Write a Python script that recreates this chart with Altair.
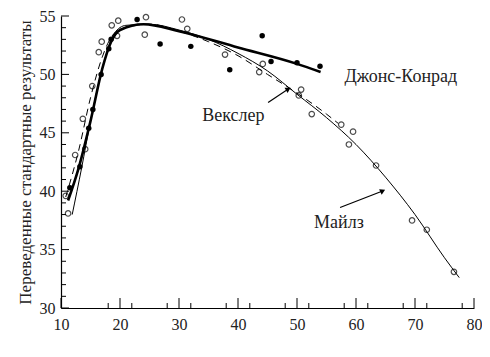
import altair as alt
import pandas as pd

# Filled points (Джонс-Конрад)
filled_x = [11.5, 13.2, 14.7, 15.4, 16.8, 18.1, 18.5, 22.9, 26.8, 32.0, 38.6, 44.1, 45.6, 50.0, 53.9]
filled_y = [40.3, 42.1, 45.4, 47.0, 50.0, 52.2, 53.0, 54.7, 52.6, 52.4, 50.4, 53.3, 51.1, 51.0, 50.7]

# Open points (Векслер / Майлз)
open_x = [10.8, 11.2, 12.4, 13.7, 14.1, 15.3, 16.4, 16.9, 18.6, 19.5, 19.7, 24.2, 24.4, 30.5, 31.4,
          37.8, 43.6, 44.2, 50.3, 50.7, 52.5, 57.5, 58.8, 59.5, 63.4, 69.5, 72.0, 76.6]
open_y = [39.6, 38.1, 43.1, 46.2, 43.6, 49.0, 51.9, 52.8, 54.2, 53.3, 54.6, 53.4, 54.9, 54.7, 53.9,
          51.7, 50.2, 50.9, 48.2, 48.7, 46.6, 45.7, 44.0, 45.1, 42.2, 37.5, 36.7, 33.1]

# Curves
jc_x = [11.2, 13, 15, 17, 18.5, 20, 24, 30, 40, 50, 54]
jc_y = [39.2, 42.0, 46.0, 50.5, 52.8, 53.8, 54.3, 53.7, 52.3, 50.9, 50.2]

wx_x = [10.8, 13, 15, 17, 19, 21, 25, 30, 35, 40, 45, 50, 55, 57]
wx_y = [39.5, 43.5, 48.0, 51.5, 53.5, 54.0, 54.3, 53.7, 52.8, 51.6, 50.0, 48.4, 46.6, 45.8]

mi_x = [11.9, 13.5, 15, 17, 19, 21, 25, 30, 35, 40, 45, 50, 55, 60, 65, 70, 75, 77.5]
mi_y = [38.0, 42.0, 46.0, 50.5, 53.5, 54.2, 54.3, 53.8, 53.0, 51.8, 50.3, 48.3, 46.3, 44.0, 41.2, 38.0, 34.3, 32.6]

# Labels and arrows
label_text = ["Джонс-Конрад", "Векслер", "Майлз"]
label_x = [67.6, 39.2, 57.1]
label_y = [49.8, 46.4, 37.3]
arrow_x = [45.1, 57.3]
arrow_y = [47.6, 38.6]
arrow_x2 = [48.4, 64.4]
arrow_y2 = [48.7, 40.0]
arrow_angle = [60, 65]

# Axis ticks
x_major = [10, 20, 30, 40, 50, 60, 70, 80]
x_minor = [18, 22, 28, 32, 38, 42, 48, 52, 58, 62, 68, 72, 78]
y_major = [30, 35, 40, 45, 50, 55]
y_minor = [v for v in range(30, 56) if v % 5 != 0]

FONT = "Liberation Serif"
W, H = 413, 292

xs = alt.Scale(domain=[10, 80], nice=False)
ys = alt.Scale(domain=[30, 55], nice=False)

xaxis = alt.Axis(values=x_major, ticks=False, title=None, grid=False, labelFontSize=16,
                 labelFont=FONT, labelPadding=8, labelFlush=False, labelOverlap=False,
                 domainColor="black", labelColor="#222")
yaxis = alt.Axis(values=y_major, ticks=False, title="Переведенные стандартные результаты",
                 grid=False, labelFontSize=16, labelFlush=False, labelOverlap=False,
                 labelFont=FONT, titleFont=FONT, titleFontSize=17, titleFontWeight="normal",
                 labelPadding=6, titlePadding=5, domainColor="black", labelColor="#222",
                 titleColor="#222")

jc = pd.DataFrame({"x": jc_x, "y": jc_y})
wx = pd.DataFrame({"x": wx_x, "y": wx_y})
mi = pd.DataFrame({"x": mi_x, "y": mi_y})
fp = pd.DataFrame({"x": filled_x, "y": filled_y})
op = pd.DataFrame({"x": open_x, "y": open_y})
lab = pd.DataFrame({"t": label_text, "x": label_x, "y": label_y})
arr = pd.DataFrame({"x": arrow_x, "y": arrow_y, "x2": arrow_x2, "y2": arrow_y2, "a": arrow_angle})


def base(df):
    return alt.Chart(df).encode(x=alt.X("x:Q", scale=xs, axis=xaxis),
                                y=alt.Y("y:Q", scale=ys, axis=yaxis))


l_jc = base(jc).mark_line(color="black", strokeWidth=2.6, interpolate="monotone")
l_wx = base(wx).mark_line(color="black", strokeWidth=1, strokeDash=[7, 5], interpolate="monotone")
l_mi = base(mi).mark_line(color="black", strokeWidth=1, interpolate="monotone")
p_f = base(fp).mark_circle(color="black", size=30, opacity=1)
p_o = base(op).mark_point(color="black", size=30, strokeWidth=1.2, filled=False, shape="circle")

texts = alt.Chart(lab).mark_text(font=FONT, fontSize=18, color="#222").encode(
    x=alt.X("x:Q", scale=xs), y=alt.Y("y:Q", scale=ys), text="t:N")
arrows = alt.Chart(arr).mark_rule(color="black", strokeWidth=1.2).encode(
    x=alt.X("x:Q", scale=xs), y=alt.Y("y:Q", scale=ys), x2="x2:Q", y2="y2:Q")
heads = alt.Chart(arr).mark_point(shape="triangle", filled=True, color="black", size=36, opacity=1).encode(
    x=alt.X("x2:Q", scale=xs), y=alt.Y("y2:Q", scale=ys), angle=alt.Angle("a:Q", scale=None))


def xticks(vals, length):
    return alt.Chart(pd.DataFrame({"v": vals})).mark_rule(color="black", strokeWidth=1).encode(
        x=alt.X("v:Q", scale=xs), y=alt.value(H), y2=alt.value(H - length))


def yticks(vals, length):
    return alt.Chart(pd.DataFrame({"v": vals})).mark_rule(color="black", strokeWidth=1).encode(
        y=alt.Y("v:Q", scale=ys), x=alt.value(0), x2=alt.value(length))


chart = alt.layer(l_mi, l_wx, l_jc, p_o, p_f, arrows, heads, texts,
                  xticks(x_major, 10), xticks(x_minor, 5),
                  yticks(y_major, 8), yticks(y_minor, 5)).properties(
    width=W, height=H,
    autosize=alt.AutoSizeParams(type="none"),
    padding={"left": 53, "top": 8, "right": 8, "bottom": 40},
).configure_view(stroke=None).configure_axis(domainWidth=1.2)

chart.save("out.html", embed_options={"renderer": "svg", "actions": False})
